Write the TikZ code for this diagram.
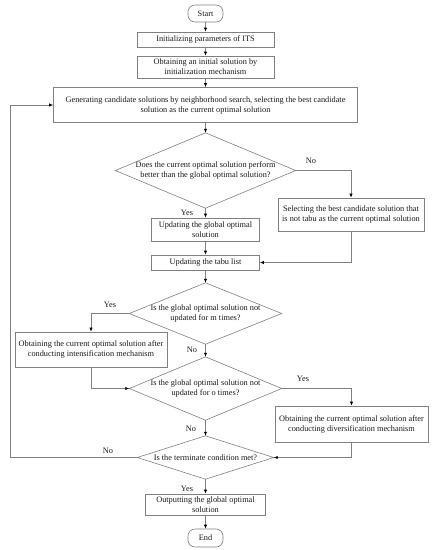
\documentclass[tikz,border=0pt]{standalone}
\usepackage{fontspec}
\setmainfont{Liberation Serif}
\usetikzlibrary{arrows.meta}
\begin{document}
\begin{tikzpicture}[x=1pt,y=-1pt,
 every node/.style={font=\fontsize{8.3}{10}\selectfont, text=black!90},
 box/.style={draw=black!50, line width=0.6pt, fill=white, align=center, inner sep=1pt},
 term/.style={box, rounded corners=7pt},
 dia/.style={align=center, inner sep=0pt},
 line/.style={draw=black!50, line width=0.6pt},
 arr/.style={line, -{Latex[length=4pt,width=3.2pt,color=black]}},
 lbl/.style={inner sep=0pt}]
\useasboundingbox[fill=white] (0,0) rectangle (435,550);
\node[term, minimum width=35pt, minimum height=17pt] (start) at (205.5,13.5) {Start};
\node[box, minimum width=137pt, minimum height=15pt] (b1) at (205.5,39.5) {Initializing parameters of ITS};
\node[box, minimum width=137pt, minimum height=22pt] (b2) at (205.5,67) {Obtaining an initial solution by\\initialization mechanism};
\node[box, minimum width=304pt, minimum height=35pt] (b3) at (205.5,105) {Generating candidate solutions by neighborhood search, selecting the best candidate\\solution as the current optimal solution};
\node[dia, minimum width=180pt, minimum height=75pt] (d1) at (205.5,170.5) {Does the current optimal solution perform\\better than the global optimal solution?};
\node[box, minimum width=146pt, minimum height=33pt] (r1) at (351,214.5) {Selecting the best candidate solution that\\is not tabu as the current optimal solution};
\node[box, minimum width=108pt, minimum height=23pt] (g1) at (205.5,229.5) {Updating the global optimal\\solution};
\node[box, minimum width=108pt, minimum height=15pt] (tabu) at (205.5,262.5) {Updating the tabu list};
\node[dia, minimum width=152pt, minimum height=61pt] (d2) at (205.5,313.5) {Is the global optimal solution not\\updated for m times?};
\node[box, minimum width=152pt, minimum height=35pt] (l1) at (91,349.5) {Obtaining the current optimal solution after\\conducting intensification mechanism};
\node[dia, minimum width=152pt, minimum height=63pt] (d3) at (205.5,388.5) {Is the global optimal solution not\\updated for o times?};
\node[box, minimum width=153pt, minimum height=36pt] (r2) at (351.5,424) {Obtaining the current optimal solution after\\conducting diversification mechanism};
\node[dia, minimum width=136pt, minimum height=43pt] (d4) at (205.5,457.5) {Is the terminate condition met?};
\node[box, minimum width=120pt, minimum height=21pt] (out) at (205.5,504.5) {Outputting the global optimal\\solution};
\node[term, minimum width=35pt, minimum height=18pt] (end) at (205.5,538) {End};
\foreach \d in {d1,d2,d3,d4}
  \draw[line] (\d.north) -- (\d.east) -- (\d.south) -- (\d.west) -- cycle;
\coordinate (loop) at (10,300);
\draw[arr] (start) -- (b1);
\draw[arr] (b1) -- (b2);
\draw[arr] (b2) -- (b3);
\draw[arr] (b3) -- (d1.north);
\draw[arr] (d1.south) -- (g1);
\draw[arr] (g1) -- (tabu);
\draw[arr] (tabu) -- (d2.north);
\draw[arr] (d2.south) -- (d3.north);
\draw[arr] (d3.south) -- (d4.north);
\draw[arr] (d4.south) -- (out);
\draw[arr] (out) -- (end);
\draw[arr] (d1.east) -| (r1.north);
\draw[arr] (r1.south) |- (tabu.east);
\draw[arr] (d2.west) -| (l1.north);
\draw[arr] (l1.south) |- (d3.west);
\draw[arr] (d3.east) -| (r2.north);
\draw[arr] (r2.south) |- (d4.east);
\draw[arr] (d4.west) -- (d4.west -| loop) |- (b3.west);
\node[lbl] (n1) at (311,161) {No};
\node[lbl] (y1) at (187,213) {Yes};
\node[lbl] (y2) at (110,305) {Yes};
\node[lbl] (n2) at (192,350) {No};
\node[lbl] (y3) at (303,379) {Yes};
\node[lbl] (n3) at (191,429) {No};
\node[lbl] (n4) at (108,451) {No};
\node[lbl] (y4) at (187,489) {Yes};
\end{tikzpicture}
\end{document}
